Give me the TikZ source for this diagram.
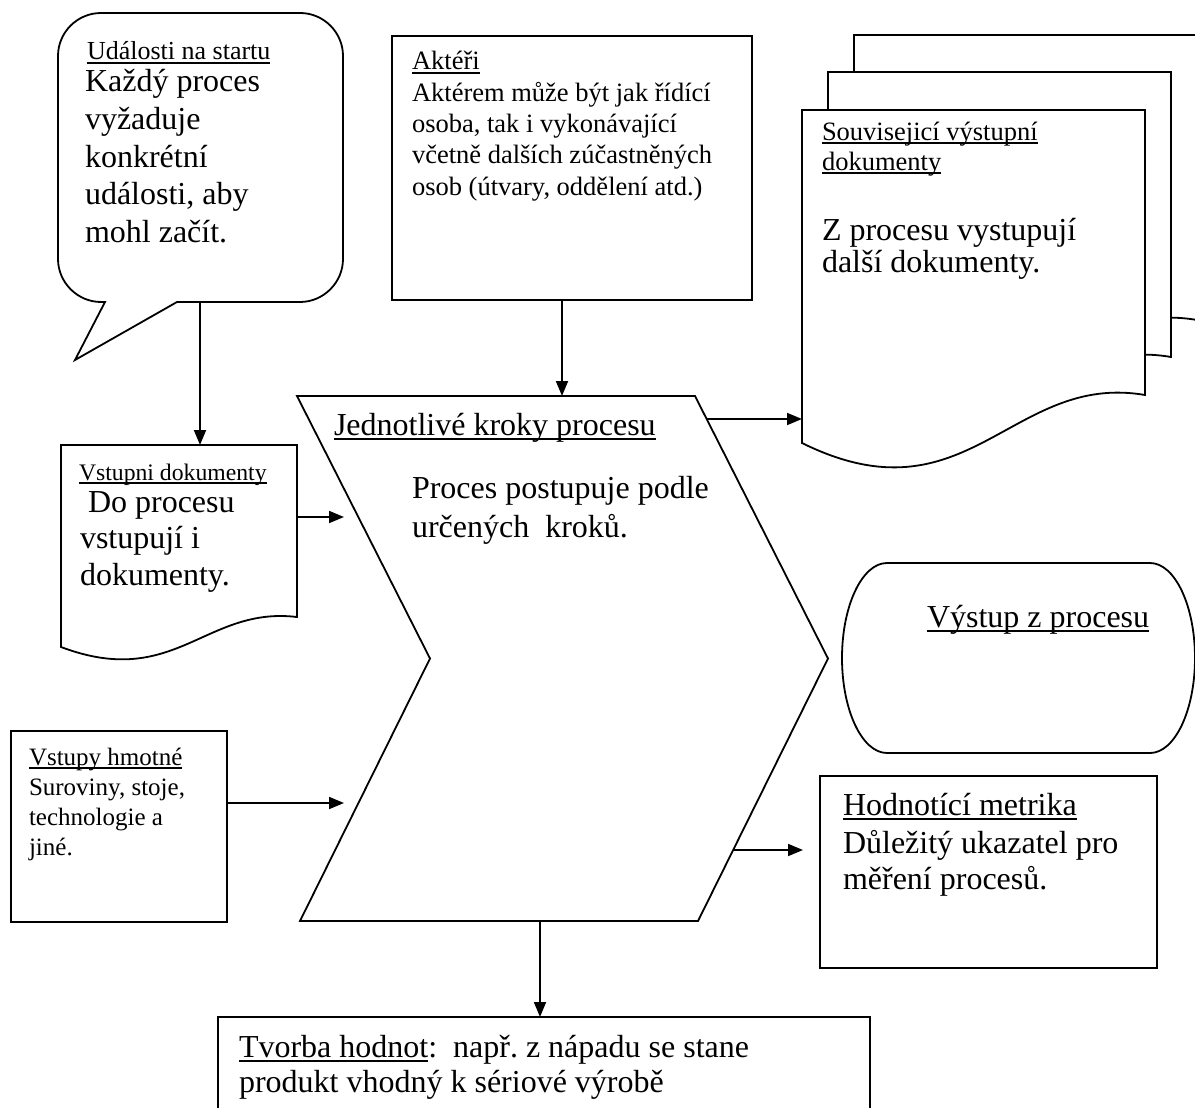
\documentclass[tikz,border=0pt]{standalone}
\usepackage{fontspec}
\setmainfont{Liberation Serif}
\usetikzlibrary{arrows.meta}
\frenchspacing

% underline drawn close to the baseline, through the descenders
\newsavebox{\ulbox}
\newcommand\ulword[1]{\sbox\ulbox{#1}\rlap{\rule[-0.15em]{\wd\ulbox}{0.06em}}\usebox\ulbox}

\tikzset{
  outline/.style={draw=black, line width=1.8pt, line join=miter},
  box/.style={outline, rectangle, fill=white, inner sep=0pt, outer sep=0pt, anchor=north west},
  arr/.style={draw=black, line width=1.8pt, -{Triangle[length=15pt,width=12pt]}},
  txt/.style={anchor=base west, inner sep=0pt, outer sep=0pt, text=black},
  bigtext/.style={font=\fontsize{32}{37}\selectfont},
  midtext/.style={font=\fontsize{26.5}{31}\selectfont},
}

\begin{document}
\begin{tikzpicture}[x=1pt,y=-1pt]
\useasboundingbox (0,0) rectangle (1195,1108);
\clip (0,0) rectangle (1195,1108);
\fill[white] (0,0) rectangle (1195,1108);

% ---- start events: speech-bubble callout
\draw[outline, fill=white] (105,302) -- (75,360) -- (177,302) -- (300,302)
  .. controls (323.7,302) and (343,282.3) .. (343,259) -- (343,56)
  .. controls (343,32.3) and (323.7,13) .. (300,13) -- (101,13)
  .. controls (77.3,13) and (58,32.3) .. (58,56) -- (58,259)
  .. controls (58,282.3) and (77.3,302) .. (101,302) -- cycle;
\coordinate (ev-out) at (200,302);
\node[txt, font=\fontsize{26}{30}\selectfont] (ev-head) at (87,60) {\ulword{Události na startu}};
\foreach \t [count=\i] in {Každý proces, vyžaduje, konkrétní, {události, aby}, mohl začít.}
  \node[txt, bigtext] (ev-\i) at (85,{92+(\i-1)*37.6}) {\t};

% ---- actors
\node[box, minimum width=360pt, minimum height=264pt] (akt) at (392,36) {};
\node[txt, midtext] (akt-head) at (412,70) {\ulword{Aktéři}};
\foreach \t [count=\i] in {Aktérem může být jak řídící, {osoba, tak i vykonávající}, včetně dalších zúčastněných, {osob (útvary, oddělení atd.)}}
  \node[txt, midtext] (akt-\i) at (412,{70+\i*31.3}) {\t};

% ---- related output documents (stack of three sheets)
\foreach \dx/\dy in {52/-75, 26/-38, 0/0}
  \draw[outline, fill=white, shift={(\dx,\dy)}] (802,110) -- (1145,110) -- (1145,395)
    .. controls (1011,372) and (968,525) .. (802,443) -- cycle;
\coordinate (od-in) at (802,419);
\node[txt, midtext] (od-h1) at (822,140) {\ulword{Souvisejicí výstupní}};
\node[txt, midtext] (od-h2) at (822,170) {\ulword{dokumenty}};
\node[txt, bigtext] (od-1) at (822,240) {Z procesu vystupují};
\node[txt, bigtext] (od-2) at (822,272) {další dokumenty.};

% ---- input documents
\draw[outline, fill=white] (61,445) -- (297,445) -- (297,617)
  .. controls (205,606) and (175,690) .. (61,647) -- cycle;
\coordinate (vd-in) at (200,445);
\coordinate (vd-out) at (297,517);
\node[txt, font=\fontsize{23.7}{28}\selectfont] (vd-head) at (79,480) {\ulword{Vstupni dokumenty}};
\node[txt, bigtext] (vd-1) at (80,512) {\ Do procesu};
\node[txt, bigtext] (vd-2) at (80,548) {vstupují i};
\node[txt, bigtext] (vd-3) at (80,585) {dokumenty.};

% ---- process steps: chevron
\draw[outline, fill=white] (297,396) -- (695,396) -- (828,658.5) -- (698,921)
  -- (300,921) -- (430,658.5) -- cycle;
\coordinate (ch-top) at (562,396);
\coordinate (ch-bot) at (540,921);
\coordinate (ch-l1) at (344,517);
\coordinate (ch-l2) at (344,803);
\coordinate (ch-r1) at (707,419);
\coordinate (ch-r2) at (734,850);
\node[txt, bigtext] (ch-head) at (334,435) {\ulword{Jednotlivé kroky procesu}};
\node[txt, bigtext] (ch-1) at (412,498) {Proces postupuje podle};
\node[txt, bigtext] (ch-2) at (412,537) {určených\ \ kroků.};

% ---- process output: terminator
\draw[outline, fill=white] (887,563) -- (1150,563)
  .. controls (1174.8,563) and (1195,605.6) .. (1195,658)
  .. controls (1195,710.4) and (1174.8,753) .. (1150,753) -- (887,753)
  .. controls (862.2,753) and (842,710.4) .. (842,658)
  .. controls (842,605.6) and (862.2,563) .. (887,563) -- cycle;
\node[txt, bigtext] (out-head) at (927,627) {\ulword{Výstup z procesu}};

% ---- evaluation metric
\node[box, minimum width=337pt, minimum height=192pt] (met) at (820,776) {};
\coordinate (met-in) at (803,850);
\node[txt, bigtext] (met-head) at (843,815) {\ulword{Hodnotící metrika}};
\node[txt, bigtext] (met-1) at (843,853) {Důležitý ukazatel pro};
\node[txt, bigtext] (met-2) at (843,889) {měření procesů.};

% ---- material inputs
\node[box, minimum width=216pt, minimum height=191pt] (hm) at (11,731) {};
\node[txt, font=\fontsize{25}{30}\selectfont] (hm-head) at (29,765) {\ulword{Vstupy hmotné}};
\foreach \t [count=\i] in {{Suroviny, stoje,}, technologie a, jiné.}
  \node[txt, font=\fontsize{25}{30}\selectfont] (hm-\i) at (29,{766+\i*29.7}) {\t};

% ---- value creation
\node[box, minimum width=652pt, minimum height=150pt] (tv) at (218,1017) {};
\node[txt, bigtext] (tv-1) at (239,1057) {\ulword{Tvorba hodnot}:\ \ např. z nápadu se stane};
\node[txt, bigtext] (tv-2) at (239,1092) {produkt vhodný k sériové výrobě};

% ---- connectors
\draw[arr] (ev-out) -- (vd-in);
\draw[arr] (akt.south -| ch-top) -- (ch-top);
\draw[arr] (vd-out) -- (ch-l1);
\draw[arr] (hm.east |- ch-l2) -- (ch-l2);
\draw[arr] (ch-r1) -- (od-in);
\draw[arr] (ch-r2) -- (met-in);
\draw[arr] (ch-bot) -- (tv.north -| ch-bot);
\end{tikzpicture}
\end{document}
